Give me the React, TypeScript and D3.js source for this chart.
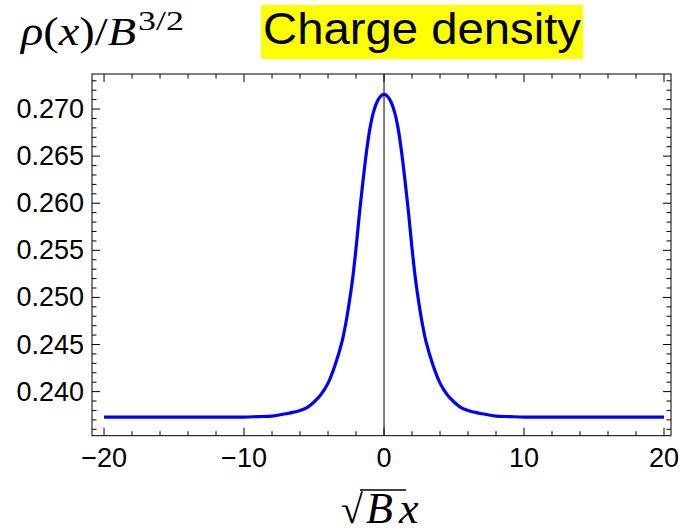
import React from "react";
import * as d3 from "d3";

// curve (sqrt(B) x , rho/B^(3/2)), symmetric about 0
const xs = [-20, -15, -12, -10, -9, -8, -7, -6, -5.5, -5, -4.5, -4, -3.5, -3, -2.75, -2.5, -2.25, -2, -1.75, -1.5, -1.25, -1, -0.75, -0.5, -0.25, 0,
  0.25, 0.5, 0.75, 1, 1.25, 1.5, 1.75, 2, 2.25, 2.5, 2.75, 3, 3.5, 4, 4.5, 5, 5.5, 6, 7, 8, 9, 10, 12, 15, 20];
const rho = [0.2373, 0.2373, 0.2373, 0.2373, 0.23735, 0.2374, 0.23765, 0.238, 0.2383, 0.2389, 0.2397, 0.2409, 0.2428, 0.2453, 0.2471, 0.2493, 0.2519, 0.2552, 0.259, 0.2624, 0.2655, 0.268, 0.2697, 0.27075, 0.27135, 0.27155,
  0.27135, 0.27075, 0.2697, 0.268, 0.2655, 0.2624, 0.259, 0.2552, 0.2519, 0.2493, 0.2471, 0.2453, 0.2428, 0.2409, 0.2397, 0.2389, 0.2383, 0.238, 0.23765, 0.2374, 0.23735, 0.2373, 0.2373, 0.2373, 0.2373];

const xTicks = [-20, -10, 0, 10, 20];
const xTickLabels = ["\u221220", "\u221210", "0", "10", "20"];
const yTicks = [0.24, 0.245, 0.25, 0.255, 0.26, 0.265, 0.27];
const yTickLabels = ["0.240", "0.245", "0.250", "0.255", "0.260", "0.265", "0.270"];

export default function App() {
  const width = 679,
    height = 532;
  const left = 92,
    right = 671,
    top = 74,
    bottom = 435.7;

  const xScale = d3.scaleLinear().domain([-20.86, 20.5]).range([left, right]);
  const yScale = d3.scaleLinear().domain([0.23532, 0.27372]).range([bottom, top]);

  const xMinor = d3.range(-20, 21, 2).filter((v) => !xTicks.includes(v));
  const yMinor = d3
    .range(236, 274)
    .map((v) => v / 1000)
    .filter((v) => v % 0.005 > 0.0001 && 0.005 - (v % 0.005) > 0.0001);

  const line = d3
    .line<number>()
    .x((d, i) => xScale(xs[i]))
    .y((d) => yScale(d))
    .curve(d3.curveCatmullRom.alpha(0.5));

  const tickFont = "'Liberation Sans', Arial, sans-serif";
  const mathFont = "'Liberation Serif', 'Times New Roman', serif";

  return (
    <svg
      width={width}
      height={height}
      style={{ position: "absolute", left: 0, top: 0, background: "#fff" }}
    >
      {/* title */}
      <rect x={261} y={5} width={322} height={54} fill="#ffff00" />
      <text
        x={263}
        y={44}
        fontSize={45}
        fontFamily={tickFont}
        textLength={318}
        lengthAdjust="spacingAndGlyphs"
        fill="#000"
      >
        Charge density
      </text>

      {/* y label */}
      <text
        x={21}
        y={45}
        fontSize={40}
        fontFamily={mathFont}
        fill="#000"
        textLength={115}
        lengthAdjust="spacingAndGlyphs"
      >
        <tspan fontStyle="italic">ρ</tspan>
        <tspan>(</tspan>
        <tspan fontStyle="italic">x</tspan>
        <tspan>)/</tspan>
        <tspan fontStyle="italic">B</tspan>
      </text>
      <text
        x={138}
        y={30}
        fontSize={28}
        fontFamily={mathFont}
        fill="#000"
        textLength={46}
        lengthAdjust="spacingAndGlyphs"
      >
        3/2
      </text>

      {/* x label */}
      <text x={341} y={523} fontSize={40} fontFamily={mathFont} fill="#000">
        √
      </text>
      <line x1={360} x2={406} y1={490} y2={490} stroke="#000" strokeWidth={1.5} />
      <text x={366} y={523} fontSize={44} fontFamily={mathFont} fontStyle="italic" fill="#000">
        <tspan>B</tspan>
        <tspan dx={6}>x</tspan>
      </text>

      {/* frame */}
      <rect x={left} y={top} width={right - left} height={bottom - top} fill="none" stroke="#000" strokeWidth={1} />

      {/* x ticks */}
      {xTicks.map((t, i) => (
        <g key={"x" + t}>
          <line x1={xScale(t)} x2={xScale(t)} y1={bottom} y2={bottom - 8} stroke="#000" />
          <line x1={xScale(t)} x2={xScale(t)} y1={top} y2={top + 8} stroke="#000" />
          <text x={xScale(t)} y={467} fontSize={27} fontFamily={tickFont} textAnchor="middle" fill="#000">
            {xTickLabels[i]}
          </text>
        </g>
      ))}
      {xMinor.map((t) => (
        <g key={"xm" + t}>
          <line x1={xScale(t)} x2={xScale(t)} y1={bottom} y2={bottom - 4.5} stroke="#000" />
          <line x1={xScale(t)} x2={xScale(t)} y1={top} y2={top + 4.5} stroke="#000" />
        </g>
      ))}

      {/* y ticks */}
      {yTicks.map((t, i) => (
        <g key={"y" + t}>
          <line x1={left} x2={left + 8} y1={yScale(t)} y2={yScale(t)} stroke="#000" />
          <line x1={right} x2={right - 8} y1={yScale(t)} y2={yScale(t)} stroke="#000" />
          <text
            x={84}
            y={yScale(t)}
            fontSize={27}
            fontFamily={tickFont}
            textAnchor="end"
            dominantBaseline="central"
            fill="#000"
          >
            {yTickLabels[i]}
          </text>
        </g>
      ))}
      {yMinor.map((t) => (
        <g key={"ym" + t}>
          <line x1={left} x2={left + 4.5} y1={yScale(t)} y2={yScale(t)} stroke="#000" />
          <line x1={right} x2={right - 4.5} y1={yScale(t)} y2={yScale(t)} stroke="#000" />
        </g>
      ))}

      {/* x = 0 line */}
      <line x1={xScale(0)} x2={xScale(0)} y1={top} y2={bottom} stroke="#000" strokeWidth={1} />

      {/* curve */}
      <path d={line(rho) || ""} fill="none" stroke="#0000ff" strokeWidth={3.2} strokeLinejoin="round" />
    </svg>
  );
}
